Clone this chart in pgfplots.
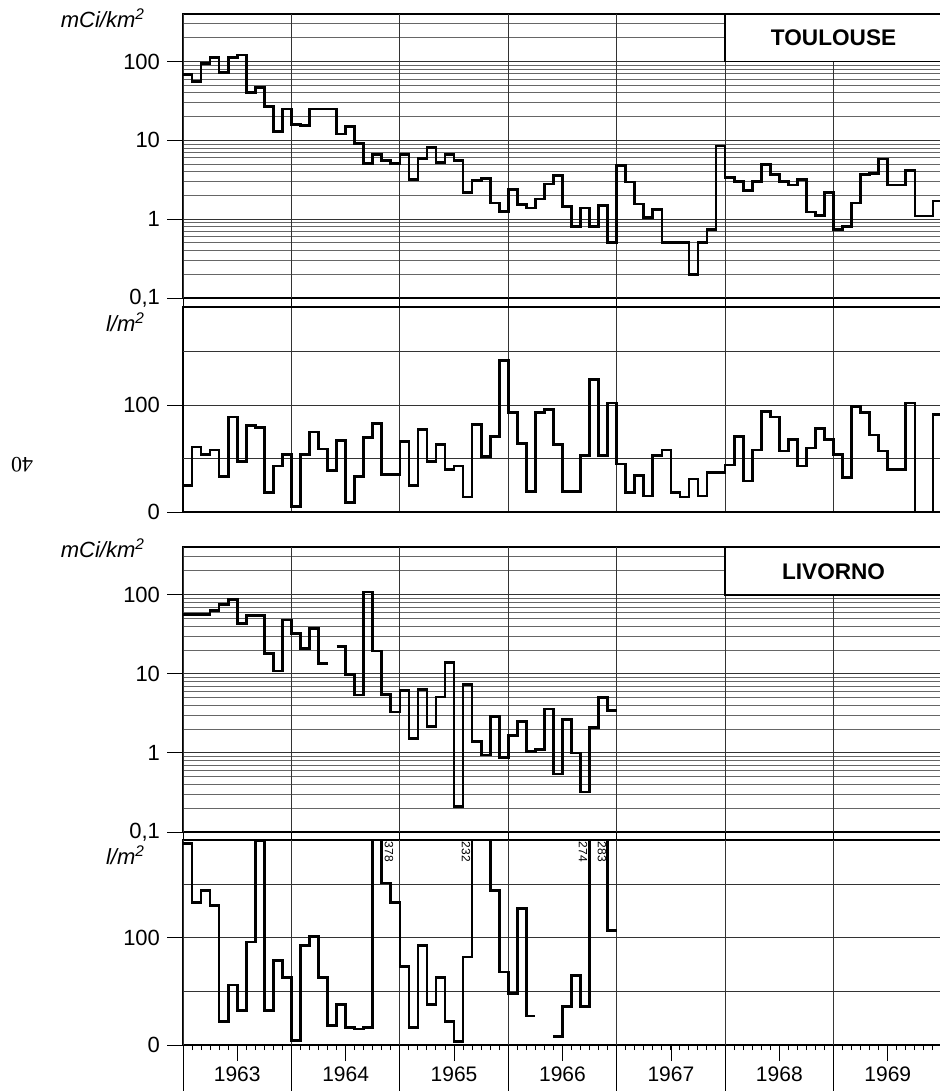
\documentclass[border=0pt]{standalone}
\usepackage{pgfplots}
\usepackage{pgfplotstable}
\pgfplotsset{compat=1.18}
\usepackage{fontspec}
\setmainfont{Liberation Sans}
\newfontfamily\serifpn{Liberation Serif}

% Toulouse fallout, mCi/km^2, month index m = 0 (Jan 1963) ...
\pgfplotstableread{
m v
0 68
1 56
2 95
3 112
4 73
5 112
6 121
7 40
8 47
9 27
10 13
11 25
12 16
13 15.5
14 25
15 25
16 25
17 12
18 15
19 9.1
20 5.1
21 6.6
22 5.5
23 5.1
24 6.6
25 3.2
26 5.9
27 8.1
28 5.2
29 6.6
30 5.6
31 2.2
32 3.1
33 3.3
34 1.6
35 1.25
36 2.4
37 1.52
38 1.39
39 1.8
40 2.8
41 3.55
42 1.45
43 0.81
44 1.38
45 0.81
46 1.48
47 0.51
48 4.8
49 2.95
50 1.56
51 1.06
52 1.32
53 0.51
54 0.51
55 0.51
56 0.2
57 0.51
58 0.74
59 8.5
60 3.4
61 3.0
62 2.3
63 3.0
64 4.9
65 3.7
66 3.0
67 2.7
68 3.2
69 1.23
70 1.11
71 2.2
72 0.74
73 0.8
74 1.6
75 3.7
76 3.8
77 5.8
78 2.7
79 2.7
80 4.1
81 1.1
82 1.1
83 1.7
84 1.7
}\toulouseF

% Toulouse precipitation, l/m^2
\pgfplotstableread{
m v
0 25
1 61
2 54
3 58
4 33
5 89
6 47
7 81
8 79
9 18
10 43
11 54
12 5
13 54
14 75
15 59
16 39
17 67
18 9
19 33
20 70
21 83
22 35
23 35
24 66
25 25
26 77
27 47
28 63
29 40
30 43
31 14
32 82
33 52
34 71
35 142
36 93
37 64
38 19
39 93
40 96
41 63
42 19
43 19
44 53
45 124
46 53
47 102
48 45
49 18
50 34
51 15
52 53
53 58
54 18
55 14
56 31
57 15
58 37
59 37
60 44
61 71
62 29
63 58
64 94
65 89
66 57
67 68
68 43
69 60
70 78
71 68
72 54
73 32
74 99
75 93
76 72
77 57
78 40
79 40
80 102
81 0
82 0
83 91
84 91
}\toulouseP

% Livorno fallout, mCi/km^2
\pgfplotstableread{
m v
0 56
1 56
2 56
3 63
4 75
5 86
6 43
7 54
8 54
9 18
10 10.8
11 48
12 32
13 21
14 37
15 13.5
16 13.5
16 nan
17 22
18 9.8
19 5.4
20 108
21 19.4
22 5.5
23 3.3
24 6.2
25 1.52
26 6.3
27 2.15
28 5.1
29 14
30 0.21
31 7.3
32 1.38
33 0.94
34 2.9
35 0.87
36 1.66
37 2.5
38 1.05
39 1.1
40 3.6
41 0.54
42 2.66
43 1.0
44 0.32
45 2.1
46 5.0
47 3.4
48 3.4
}\livornoF

% Livorno precipitation, l/m^2
\pgfplotstableread{
m v
0 188
1 133
2 144
3 130
4 22
5 56
6 32
7 96
8 190
9 32
10 79
11 63
12 4
13 93
14 101
15 63
16 18.5
17 38
18 16
19 15
20 16
21 378
22 151
23 133
24 73
25 16
26 93
27 38
28 63
29 22
30 3
31 82
32 232
33 210
34 144
35 68
36 48
37 127
38 27
39 27
39 nan
41 8
42 36
43 65
44 36
45 274
46 283
47 107
48 107
}\livornoP

\pgfplotsset{
  panel/.style={
    scale only axis, width=379.5pt, anchor=north west,
    xmin=1963, xmax=1970,
    axis line style={line width=0.9pt},
    tick align=outside, xtick pos=bottom, ytick pos=left,
    major tick length=8pt, minor tick length=2.5pt,
    tick style={black, line width=0.4pt},
    major grid style={black!80, line width=0.45pt},
    minor grid style={black!60, line width=0.4pt},
    ymajorgrids,
    yticklabel style={font=\fontsize{11}{13}\selectfont},
    xticklabel style={font=\fontsize{10.5}{12}\selectfont},
    /pgf/number format/assume math mode=true,
    unbounded coords=jump,
  },
  dataline/.style={const plot, black, line width=1.35pt, mark=none},
}

\begin{document}
\begin{tikzpicture}
\useasboundingbox (0,0) rectangle (470pt,-545.5pt);

% Toulouse fallout
\begin{axis}[panel, at={(91.5pt,-7pt)}, height=142pt,
  ymode=log, ymin=0.1, ymax=400,
  ytick={0.1,1,10,100}, yticklabels={{0,1},1,10,100},
  minor ytick={0.2,0.3,0.4,0.5,0.6,0.7,0.8,0.9,2,3,4,5,6,7,8,9,20,30,40,50,60,70,80,90,200,300},
  yminorgrids, minor tick length=0pt,
  xtick=\empty,
  extra x ticks={1963,1964,...,1970}, extra x tick labels={},
  extra x tick style={grid=major, major tick length=4.5pt}]
\addplot[dataline] table[x expr=1963+\thisrow{m}/12, y=v]{\toulouseF};
\draw[fill=white, line width=0.9pt] (axis cs:1968,100) rectangle (axis cs:1970,400);
\node[font=\bfseries\fontsize{11.3}{13}\selectfont] at (axis cs:1969,198) {TOULOUSE};
\end{axis}

% Toulouse precipitation
\begin{axis}[panel, at={(91.5pt,-153.5pt)}, height=102.5pt, ymin=0, ymax=192,
  ytick={0,100}, yticklabels={0,100},
  extra y ticks={50,150}, extra y tick labels={},
  extra y tick style={major tick length=0pt},
  xtick={1963,1964,...,1970}, xticklabels={}, xmajorgrids, xtick style={draw=none}]
\addplot[dataline] table[x expr=1963+\thisrow{m}/12, y=v]{\toulouseP};
\end{axis}

% Livorno fallout
\begin{axis}[panel, at={(91.5pt,-273.5pt)}, height=142.5pt,
  ymode=log, ymin=0.1, ymax=400,
  ytick={0.1,1,10,100}, yticklabels={{0,1},1,10,100},
  minor ytick={0.2,0.3,0.4,0.5,0.6,0.7,0.8,0.9,2,3,4,5,6,7,8,9,20,30,40,50,60,70,80,90,200,300},
  yminorgrids, minor tick length=0pt,
  xtick=\empty,
  extra x ticks={1963,1964,...,1970}, extra x tick labels={},
  extra x tick style={grid=major, major tick length=4pt}]
\addplot[dataline] table[x expr=1963+\thisrow{m}/12, y=v]{\livornoF};
\draw[fill=white, line width=0.9pt] (axis cs:1968,100) rectangle (axis cs:1970,400);
\node[font=\bfseries\fontsize{11.3}{13}\selectfont] at (axis cs:1969,194) {LIVORNO};
\end{axis}

% Livorno precipitation
\begin{axis}[panel, at={(91.5pt,-420pt)}, height=102.5pt, ymin=0, ymax=191,
  ytick={0,100}, yticklabels={0,100},
  extra y ticks={50,150}, extra y tick labels={},
  xtick={1963.5,1964.5,1965.5,1966.5,1967.5,1968.5,1969.5},
  xticklabels={1963,1964,1965,1966,1967,1968,1969},
  xticklabel style={yshift=0.5pt},
  minor xtick={1963,1963.0833333,...,1970},
  extra x ticks={1963,1964,...,1970}, extra x tick labels={},
  extra x tick style={grid=major, major tick length=23pt},
  extra y tick style={major tick length=0pt},
]
\addplot[dataline] table[x expr=1963+\thisrow{m}/12, y=v]{\livornoP};
\node[rotate=-90, font=\fontsize{6}{7}\selectfont] at (axis cs:1964.90,180) {378};
\node[rotate=-90, font=\fontsize{6}{7}\selectfont] at (axis cs:1965.61,180) {232};
\node[rotate=-90, font=\fontsize{6}{7}\selectfont] at (axis cs:1966.69,180) {274};
\node[rotate=-90, font=\fontsize{6}{7}\selectfont] at (axis cs:1966.865,180) {283};
\end{axis}

\node[anchor=east, font=\itshape\fontsize{11}{13}\selectfont] at (76pt,-9pt) {mCi/km\textsuperscript{2}};
\node[anchor=east, font=\itshape\fontsize{11}{13}\selectfont] at (76pt,-161pt) {l/m\textsuperscript{2}};
\node[anchor=east, font=\itshape\fontsize{11}{13}\selectfont] at (76pt,-274pt) {mCi/km\textsuperscript{2}};
\node[anchor=east, font=\itshape\fontsize{11}{13}\selectfont] at (76pt,-427.5pt) {l/m\textsuperscript{2}};
\node[rotate=180, font=\serifpn\fontsize{11}{13}\selectfont] at (11pt,-232.5pt) {40};
\end{tikzpicture}
\end{document}
